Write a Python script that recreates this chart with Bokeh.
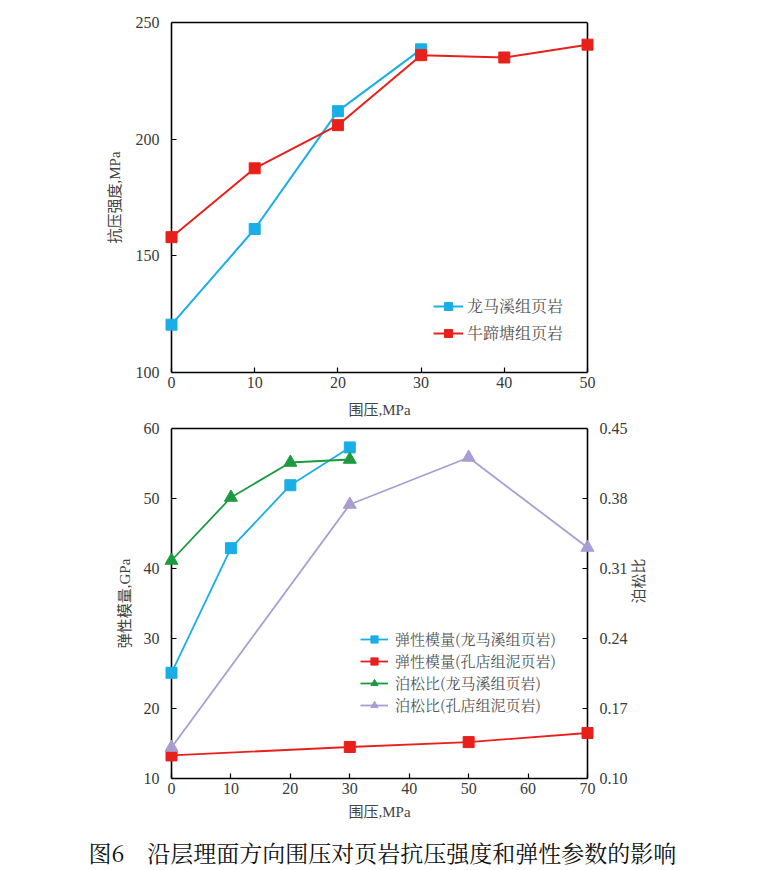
import math
from bokeh.plotting import figure
from bokeh.models import (Range1d, LinearAxis, FixedTicker, Legend, LegendItem,
                          Title, Span, NumeralTickFormatter)
from bokeh.layouts import column
from bokeh.embed import file_html
from bokeh.resources import INLINE

# ---------------- data ----------------
# top chart: compressive strength vs confining pressure
top_x_lmx = [0, 10, 20, 30]
top_y_lmx = [120.5, 161.5, 212, 238.5]
top_x_ntt = [0, 10, 20, 30, 40, 50]
top_y_ntt = [158, 187.5, 206, 236, 235, 240.5]
top_labels = ["龙马溪组页岩", "牛蹄塘组页岩"]
top_xticks = [0, 10, 20, 30, 40, 50]
top_yticks = [100, 150, 200, 250]

# bottom chart
e_x_lmx = [0, 10, 20, 30]
e_y_lmx = [25.1, 42.9, 51.9, 57.3]
e_x_kd = [0, 30, 50, 70]
e_y_kd = [13.3, 14.5, 15.2, 16.5]
nu_x_lmx = [0, 10, 20, 30]
nu_y_lmx = [0.318, 0.381, 0.416, 0.419]
nu_x_kd = [0, 30, 50, 70]
nu_y_kd = [0.131, 0.374, 0.421, 0.331]
bottom_labels = ["弹性模量(龙马溪组页岩)", "弹性模量(孔店组泥页岩)",
                 "泊松比(龙马溪组页岩)", "泊松比(孔店组泥页岩)"]
bot_xticks = [0, 10, 20, 30, 40, 50, 60, 70]
bot_yticks = [10, 20, 30, 40, 50, 60]
right_ticks = [0.10, 0.17, 0.24, 0.31, 0.38, 0.45]

caption = "图6　沿层理面方向围压对页岩抗压强度和弹性参数的影响"

BLUE = "#1aaee6"
RED = "#e8201c"
GREEN = "#1c9a40"
PURPLE = "#a99dd2"
SERIF = "'Liberation Serif', 'Noto Sans CJK SC'"
CJK = "'Noto Serif CJK SC', 'Noto Sans CJK SC'"
TXT = "#3a3a3a"
PAD = 8  # px between frame edge and the data box edge (keeps edge markers unclipped)


def style_axis(ax, size="16px"):
    ax.axis_line_color = "black"
    ax.axis_line_width = 1.6
    ax.major_tick_line_color = "black"
    ax.major_tick_line_width = 1.2
    ax.major_tick_in = 5
    ax.major_tick_out = 0
    ax.minor_tick_line_color = None
    ax.major_label_text_font = SERIF
    ax.major_label_text_font_size = size
    ax.major_label_text_color = TXT
    ax.axis_label_text_font = SERIF
    ax.axis_label_text_font_size = "15px"
    ax.axis_label_text_font_style = "normal"
    ax.axis_label_text_color = "#444444"


def shifted_y_axis(ax):
    # axis sits on the frame edge; draw its ticks at the data-box edge instead
    ax.axis_line_color = None
    ax.major_tick_out = -PAD
    ax.major_tick_in = PAD + 5


def edge_axis(**kw):
    ax = LinearAxis(ticker=FixedTicker(ticks=[]), **kw)
    ax.axis_line_color = "black"
    ax.axis_line_width = 1.6
    ax.major_tick_line_color = None
    ax.minor_tick_line_color = None
    ax.major_label_text_color = None
    ax.major_tick_in = 0
    ax.major_tick_out = 0
    ax.major_label_standoff = 0
    ax.axis_label_standoff = 0
    return ax


def edge_span(x):
    return Span(location=x, dimension="height", line_color="black",
                line_width=1.6, level="underlay")


# ---------------- top figure ----------------
X0, X1 = top_xticks[0], top_xticks[-1]
px1 = 416 / (X1 - X0)
p1 = figure(width=729, height=416, output_backend="svg", toolbar_location=None,
            x_range=Range1d(X0 - PAD / px1, X1 + PAD / px1), y_range=Range1d(100, 250),
            min_border_left=163, min_border_right=133, min_border_top=22,
            min_border_bottom=44, frame_width=416 + 2 * PAD, frame_height=350)
p1.grid.visible = False
p1.outline_line_color = None
p1.background_fill_color = "white"
p1.border_fill_color = "white"
p1.xaxis.ticker = FixedTicker(ticks=top_xticks)
p1.xaxis.bounds = (X0, X1)
p1.yaxis.ticker = FixedTicker(ticks=top_yticks)
style_axis(p1.xaxis[0])
style_axis(p1.yaxis[0])
shifted_y_axis(p1.yaxis[0])
p1.xaxis.axis_label = "围压,MPa"
p1.yaxis.axis_label = "抗压强度,MPa"
p1.xaxis.major_label_standoff = 4
p1.xaxis.axis_label_standoff = 11
p1.yaxis.major_label_standoff = 4
p1.yaxis.axis_label_standoff = 10
p1.add_layout(edge_axis(bounds=(X0, X1)), "above")
p1.add_layout(edge_span(X0))
p1.add_layout(edge_span(X1))

l1 = p1.line(top_x_lmx, top_y_lmx, line_color=BLUE, line_width=2)
s1 = p1.scatter(top_x_lmx, top_y_lmx, marker="square", size=11, color=BLUE)
l2 = p1.line(top_x_ntt, top_y_ntt, line_color=RED, line_width=2)
s2 = p1.scatter(top_x_ntt, top_y_ntt, marker="square", size=11, color=RED)

leg1 = Legend(items=[LegendItem(label=top_labels[0], renderers=[l1, s1]),
                     LegendItem(label=top_labels[1], renderers=[l2, s2])],
              location=(270, 28), padding=0, margin=0, spacing=4,
              glyph_width=30, glyph_height=20, label_height=20,
              label_standoff=4, border_line_alpha=0, background_fill_alpha=0,
              label_text_font=CJK, label_text_font_size="16px",
              label_text_color="#555555")
p1.add_layout(leg1, "center")

# ---------------- bottom figure ----------------
B0, B1 = bot_xticks[0], bot_xticks[-1]
px2 = 416 / (B1 - B0)
p2 = figure(width=729, height=452, output_backend="svg", toolbar_location=None,
            x_range=Range1d(B0 - PAD / px2, B1 + PAD / px2), y_range=Range1d(10, 60),
            min_border_left=163, min_border_right=100, min_border_top=8,
            min_border_bottom=10, frame_width=416 + 2 * PAD, frame_height=350)
p2.grid.visible = False
p2.outline_line_color = None
p2.background_fill_color = "white"
p2.border_fill_color = "white"
NU0, NU1 = right_ticks[0], right_ticks[-1]
p2.extra_y_ranges = {"nu": Range1d(NU0, NU1)}
rax = LinearAxis(y_range_name="nu", ticker=FixedTicker(ticks=right_ticks),
                 formatter=NumeralTickFormatter(format="0.00"))
p2.add_layout(rax, "right")
p2.xaxis.ticker = FixedTicker(ticks=bot_xticks)
p2.xaxis.bounds = (B0, B1)
p2.yaxis[0].ticker = FixedTicker(ticks=bot_yticks)
style_axis(p2.xaxis[0])
style_axis(p2.yaxis[0])
style_axis(rax)
shifted_y_axis(p2.yaxis[0])
shifted_y_axis(rax)
p2.xaxis.axis_label = "围压,MPa"
p2.yaxis[0].axis_label = "弹性模量,GPa"
p2.xaxis.major_label_standoff = 4
p2.xaxis.axis_label_standoff = 7
p2.yaxis[0].major_label_standoff = 4
p2.yaxis[0].axis_label_standoff = 8
rax.major_label_standoff = 4

# separate, tick-less axis that only carries the right-hand title, so it can be
# centred (a rotated label is anchored at its start)
rlab = LinearAxis(y_range_name="nu", ticker=FixedTicker(ticks=[]),
                  bounds=(NU0, NU1 - 0.048))
rlab.axis_line_color = None
rlab.major_tick_line_color = None
rlab.minor_tick_line_color = None
rlab.major_tick_in = 0
rlab.major_tick_out = 0
rlab.major_label_standoff = 0
rlab.axis_label = "泊松比"
rlab.axis_label_orientation = math.pi / 2
rlab.axis_label_text_font = SERIF
rlab.axis_label_text_font_size = "15px"
rlab.axis_label_text_font_style = "normal"
rlab.axis_label_text_color = "#444444"
rlab.axis_label_standoff = 8
p2.add_layout(rlab, "right")

p2.add_layout(edge_axis(bounds=(B0, B1)), "above")
p2.add_layout(edge_span(B0))
p2.add_layout(edge_span(B1))

b_l1 = p2.line(e_x_lmx, e_y_lmx, line_color=BLUE, line_width=1.8)
b_s1 = p2.scatter(e_x_lmx, e_y_lmx, marker="square", size=11, color=BLUE)
b_l2 = p2.line(e_x_kd, e_y_kd, line_color=RED, line_width=1.8)
b_s2 = p2.scatter(e_x_kd, e_y_kd, marker="square", size=11, color=RED)
b_l3 = p2.line(nu_x_lmx, nu_y_lmx, line_color=GREEN, line_width=1.8, y_range_name="nu")
b_s3 = p2.scatter(nu_x_lmx, nu_y_lmx, marker="triangle", size=13, color=GREEN, y_range_name="nu")
b_l4 = p2.line(nu_x_kd, nu_y_kd, line_color=PURPLE, line_width=1.8, y_range_name="nu")
b_s4 = p2.scatter(nu_x_kd, nu_y_kd, marker="triangle", size=13, color=PURPLE, y_range_name="nu")

leg2 = Legend(items=[LegendItem(label=bottom_labels[0], renderers=[b_l1, b_s1]),
                     LegendItem(label=bottom_labels[1], renderers=[b_l2, b_s2]),
                     LegendItem(label=bottom_labels[2], renderers=[b_l3, b_s3]),
                     LegendItem(label=bottom_labels[3], renderers=[b_l4, b_s4])],
              location=(197, 63), padding=0, margin=0, spacing=1,
              glyph_width=28, glyph_height=18, label_height=18,
              label_standoff=7, border_line_alpha=0, background_fill_alpha=0,
              label_text_font=CJK, label_text_font_size="15px",
              label_text_color="#555555")
p2.add_layout(leg2, "center")

cap = Title(text=caption, align="left", offset=-75,
            text_font=CJK, text_font_size="23px", text_font_style="normal",
            text_color="#111111", standoff=22)
p2.add_layout(cap, "below")

layout = column(p1, p2, spacing=0)
open("out.html", "w").write(file_html(layout, INLINE))
